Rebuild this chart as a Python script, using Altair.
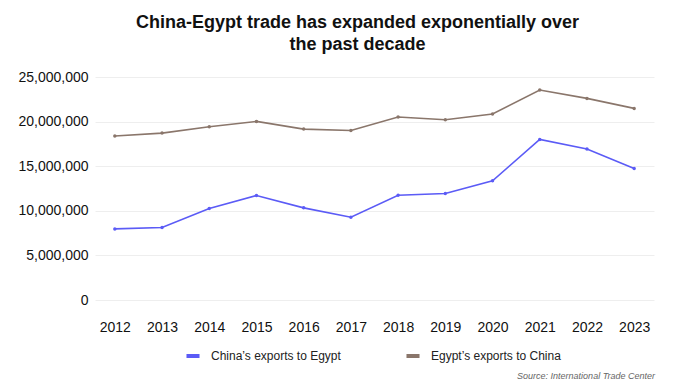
import altair as alt
import pandas as pd

years = ["2012", "2013", "2014", "2015", "2016", "2017", "2018", "2019", "2020", "2021", "2022", "2023"]
china_to_egypt = [7970000, 8120000, 10250000, 11710000, 10330000, 9280000, 11750000, 11940000, 13360000, 18000000, 16920000, 14750000]
egypt_to_china = [18380000, 18710000, 19420000, 20020000, 19160000, 19010000, 20510000, 20210000, 20850000, 23540000, 22600000, 21480000]
series_names = ["China\u2019s exports to Egypt", "Egypt\u2019s exports to China"]
colors = ["#5b5bf6", "#8a766b"]

rows = []
for y, v in zip(years, china_to_egypt):
    rows.append({"year": y, "value": v, "series": series_names[0]})
for y, v in zip(years, egypt_to_china):
    rows.append({"year": y, "value": v, "series": series_names[1]})
df = pd.DataFrame(rows)

FONT = "Liberation Sans"

color_scale = alt.Scale(domain=series_names, range=colors)

x_enc = alt.X("year:O", title=None, sort=years,
              scale=alt.Scale(type="point", padding=0.42),
              axis=alt.Axis(labelAngle=0, labelFontSize=14, labelColor="#111111",
                            labelFont=FONT, ticks=False, domain=False, labelPadding=20,
                            grid=False))
y_enc = alt.Y("value:Q", title=None,
              scale=alt.Scale(domain=[0, 25000000], nice=False, zero=True),
              axis=alt.Axis(values=[0, 5000000, 10000000, 15000000, 20000000, 25000000],
                            format=",d", labelFontSize=14, labelColor="#111111",
                            labelFont=FONT, ticks=False, domain=False, labelPadding=7,
                            gridColor="#eeeeee", gridWidth=1))

lines = alt.Chart(df).mark_line(strokeWidth=1.6).encode(
    x=x_enc, y=y_enc,
    color=alt.Color("series:N", scale=color_scale, sort=series_names,
                    legend=alt.Legend(title=None, orient="none", direction="horizontal",
                                      legendX=89, legendY=270, symbolType="stroke",
                                      symbolStrokeWidth=4, symbolSize=170,
                                      labelFontSize=12, labelFont=FONT, labelColor="#222222",
                                      columnPadding=57, labelOffset=9)),
)
points = alt.Chart(df).mark_point(filled=True, size=12, opacity=1).encode(
    x=alt.X("year:O", sort=years), y="value:Q",
    color=alt.Color("series:N", scale=color_scale, legend=None),
)
source = alt.Chart(pd.DataFrame({"t": ["Source: International Trade Center"]})).mark_text(
    font=FONT, fontSize=9, fontStyle="italic", color="#666666", align="right", baseline="middle"
).encode(text="t:N", x=alt.value(560), y=alt.value(299))

chart = alt.layer(lines, points, source).properties(
    width=559, height=223,
    autosize=alt.AutoSizeParams(type="none"),
    padding={"left": 87, "top": 69, "right": 34, "bottom": 82},
    title=alt.TitleParams(
        text=["China-Egypt trade has expanded exponentially over", "the past decade"],
        font=FONT, fontSize=18, fontWeight="bold", color="#111111",
        anchor="middle", dx=-17, offset=16, lineHeight=22,
    ),
).configure(background="white").configure_view(stroke=None)

chart.save("out.html", embed_options={"renderer": "svg", "actions": False})
